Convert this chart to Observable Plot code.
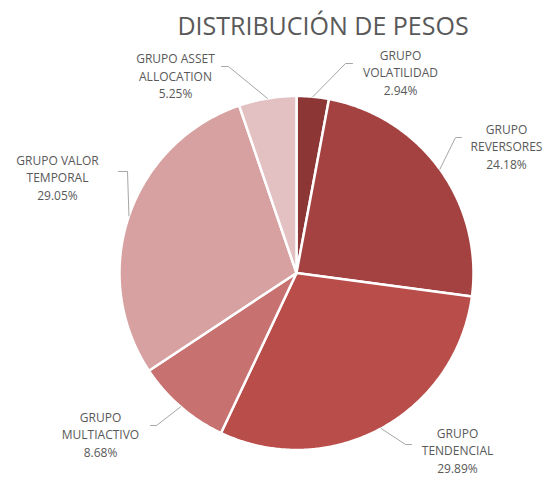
<!DOCTYPE html>
<html><head><meta charset="utf-8">
<script src="https://cdn.jsdelivr.net/npm/d3@7"></script>
<script src="https://cdn.jsdelivr.net/npm/@observablehq/plot@0.6"></script>
<style>body{margin:0;background:#fff;} #chart svg{display:block;}</style>
</head><body><div id="chart"></div>
<script>
// ---- data ----
const title = "DISTRIBUCIÓN DE PESOS";
const groups = ["GRUPO VOLATILIDAD", "GRUPO REVERSORES", "GRUPO TENDENCIAL", "GRUPO MULTIACTIVO", "GRUPO VALOR TEMPORAL", "GRUPO ASSET ALLOCATION"];
const labelLines = [["GRUPO", "VOLATILIDAD"], ["GRUPO", "REVERSORES"], ["GRUPO", "TENDENCIAL"], ["GRUPO", "MULTIACTIVO"], ["GRUPO VALOR", "TEMPORAL"], ["GRUPO ASSET", "ALLOCATION"]];
const values = [2.94, 24.18, 29.89, 8.68, 29.05, 5.25];
const colors = ["#8C3636", "#A44241", "#B94D4A", "#C87171", "#D6A1A0", "#E3C1C2"];

// ---- layout (pixel space of the chart) ----
const W = 545, H = 477;
const cx = 296, cy = 272.5, R = 177;
// label block centers
const labelPos = [[400, 71], [506, 145], [457, 449], [100, 433], [57, 176], [175, 74.5]];
// leader line: end near label, elbow
const leaderEnd = [[352, 63], [461, 137], [411, 444], [150, 425], [118, 171], [221, 66]];
const leaderElbow = [[345, 63], [455, 137], [405, 444], [156, 425], [127, 171], [228, 66]];

const pie = d3.pie().sort(null).value(d => d.value).startAngle(0).endAngle(2 * Math.PI);
const rows = groups.map((g, i) => ({name: g, value: values[i], i}));
const arcs = pie(rows);
const pt = (a, r) => [cx + r * Math.sin(a), cy - r * Math.cos(a)];

const slicePts = [];
arcs.forEach(a => {
  slicePts.push({name: a.data.name, x: cx, y: cy});
  const n = Math.max(2, Math.ceil((a.endAngle - a.startAngle) / (Math.PI / 360)));
  for (let k = 0; k <= n; k++) {
    const ang = a.startAngle + (a.endAngle - a.startAngle) * k / n;
    const [x, y] = pt(ang, R);
    slicePts.push({name: a.data.name, x, y});
  }
  slicePts.push({name: a.data.name, x: cx, y: cy});
});

const leaderPts = [];
arcs.forEach((a, i) => {
  const mid = (a.startAngle + a.endAngle) / 2;
  const [x0, y0] = pt(mid, R);
  leaderPts.push({name: a.data.name, x: x0, y: y0});
  leaderPts.push({name: a.data.name, x: leaderElbow[i][0], y: leaderElbow[i][1]});
  leaderPts.push({name: a.data.name, x: leaderEnd[i][0], y: leaderEnd[i][1]});
});

const labels = arcs.map((a, i) => ({
  x: labelPos[i][0], y: labelPos[i][1],
  text: [...labelLines[i], values[i].toFixed(2) + "%"].join("\n")
}));

const chart = Plot.plot({
  width: W, height: H,
  margin: 0,
  x: {domain: [0, W], range: [0, W], axis: null},
  y: {domain: [0, H], range: [0, H], axis: null},
  color: {domain: groups, range: colors},
  style: {fontFamily: "'Open Sans', sans-serif", background: "#fff"},
  marks: [
    Plot.line(slicePts, {x: "x", y: "y", z: "name", fill: "name", stroke: "#fff", strokeWidth: 2.5, strokeLinejoin: "round", curve: "linear"}),
    Plot.line(leaderPts, {x: "x", y: "y", z: "name", stroke: "#A6A6A6", strokeWidth: 1, curve: "linear"}),
    Plot.text(labels, {x: "x", y: "y", text: "text", fill: "#595959", fontSize: 12, lineHeight: 1.47, lineAnchor: "middle", textAnchor: "middle"}),
    Plot.text([title], {x: [322.5], y: [26], text: d => d, fill: "#595959", fontSize: 25, lineAnchor: "middle", textAnchor: "middle"})
  ]
});
document.getElementById("chart").append(chart);
</script>
</body></html>
